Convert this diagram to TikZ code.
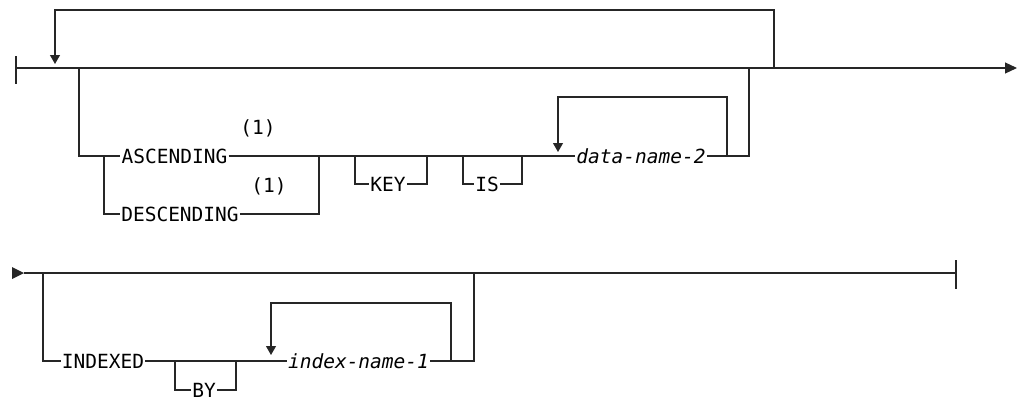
\documentclass[tikz,border=0pt]{standalone}
\usepackage{fontspec}
\setmonofont{DejaVu Sans Mono}
\usetikzlibrary{arrows.meta}
\begin{document}
\begin{tikzpicture}[x=1pt,y=-1pt,
  rail/.style={line width=1.1pt,draw=black!85},
  tip/.style={-{Triangle[width=10pt,length=9pt]}},
  endtip/.style={-{Triangle[width=11pt,length=12pt]}},
  kw/.style={font=\ttfamily\fontsize{19.5}{20}\selectfont,inner xsep=1pt,inner ysep=0pt,text height=14.6pt,text depth=0pt},
  var/.style={kw,font=\ttfamily\itshape\fontsize{19.5}{20}\selectfont},
  note/.style={font=\ttfamily\fontsize{19.5}{20}\selectfont,inner sep=0pt}]
\useasboundingbox (0,0) rectangle (1019,399);
% ---------- row 1 ----------
\coordinate (s1) at (16,68);
\coordinate (e1) at (1017,68);
\draw[rail] (16,56) -- (16,84);
\draw[rail,endtip] (s1) -- (e1);
% repeat loop over whole group
\coordinate (L1r) at (774,68);
\coordinate (L1a) at (55,64);
\draw[rail,tip] (L1r) -- (774,10) -- (55,10) -- (L1a);
% texts
\node[kw] (asc) at (174.5,156) {ASCENDING};
\node[kw] (desc) at (180,214) {DESCENDING};
\node[note] (n1) at (258,128) {(1)};
\node[note] (n2) at (269,186) {(1)};
\node[kw] (key) at (388,184) {KEY};
\node[kw] (is) at (487,184) {IS};
\node[var] (dn) at (641,156) {data-name-2};
% branch
\coordinate (b1) at (79,68);
\draw[rail] (b1) -- (79,156) -- (asc.west);
\coordinate (d1) at (104,156);
\draw[rail] (d1) -- (104,214) -- (desc.west);
\draw[rail] (desc.east) -- (319,214) -- (319,156);
\draw[rail] (asc.east) -- (dn.west);
% KEY optional
\draw[rail] (355,156) -- (355,184) -- (key.west);
\draw[rail] (key.east) -- (427,184) -- (427,156);
% IS optional
\draw[rail] (463,156) -- (463,184) -- (is.west);
\draw[rail] (is.east) -- (522,184) -- (522,156);
% data-name-2 repeat
\coordinate (dr) at (727,156);
\coordinate (da) at (558,152);
\draw[rail] (dn.east) -- (749,156) -- (749,68);
\draw[rail,tip] (dr) -- (727,97) -- (558,97) -- (da);
% ---------- row 2 ----------
\coordinate (s2) at (24,273);
\coordinate (e2) at (956,273);
\fill[black!85] (12,267) -- (24,273) -- (12,279) -- cycle;
\draw[rail] (s2) -- (e2);
\draw[rail] (956,260) -- (956,289);
\node[kw] (idx) at (103,361) {INDEXED};
\node[kw] (by) at (204,390) {BY};
\node[var] (in) at (358.5,361) {index-name-1};
\coordinate (b2) at (43,273);
\draw[rail] (b2) -- (43,361) -- (idx.west);
\draw[rail] (idx.east) -- (in.west);
\draw[rail] (175,361) -- (175,390) -- (by.west);
\draw[rail] (by.east) -- (236,390) -- (236,361);
\coordinate (ir) at (451,361);
\coordinate (ia) at (271,355);
\draw[rail] (in.east) -- (474,361) -- (474,273);
\draw[rail,tip] (ir) -- (451,303) -- (271,303) -- (ia);
\end{tikzpicture}
\end{document}
